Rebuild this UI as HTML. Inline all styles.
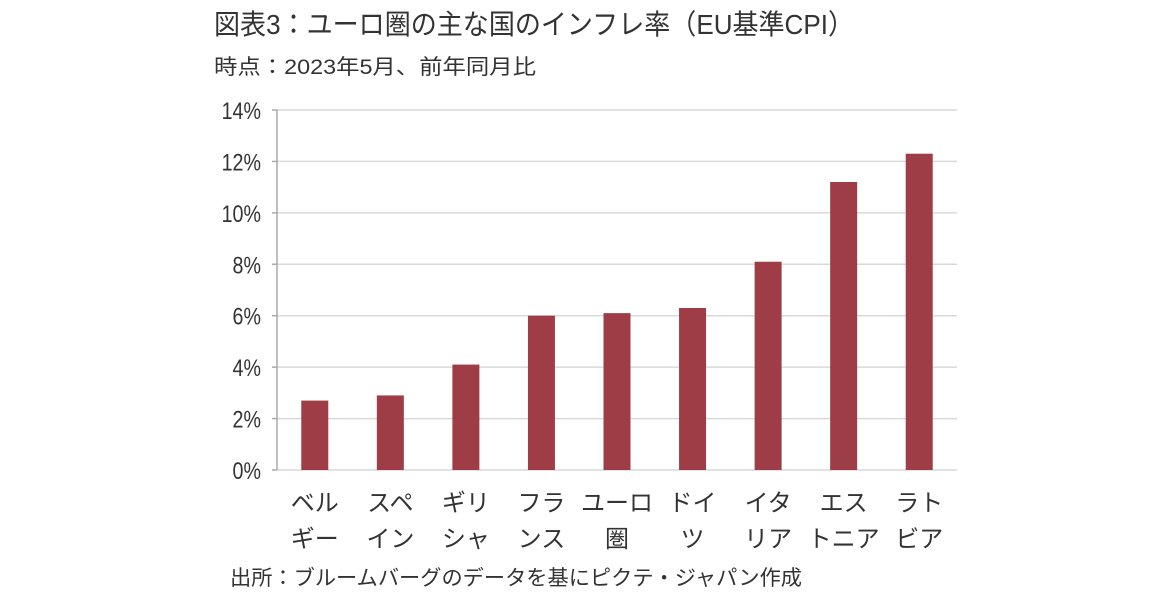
<!DOCTYPE html>
<html><head><meta charset="utf-8">
<style>
body{margin:0;background:#fff;width:1152px;height:596px;overflow:hidden;font-family:"Liberation Sans","Noto Sans CJK JP",sans-serif;color:#333}
svg text{font-family:"Liberation Sans","Noto Sans CJK JP",sans-serif}
</style></head><body>
<svg width="1152" height="596">
<text x="214" y="34" font-size="28" fill="#333" textLength="640" lengthAdjust="spacingAndGlyphs">図表3：ユーロ圏の主な国のインフレ率（EU基準CPI）</text>
<text x="214" y="74" font-size="21" fill="#333" textLength="322" lengthAdjust="spacingAndGlyphs">時点：2023年5月、前年同月比</text>
<g id="grid"></g>
<g id="bars"></g>
<g id="xlabels"></g>
<text x="230" y="585" font-size="21" fill="#333" textLength="572" lengthAdjust="spacingAndGlyphs">出所：ブルームバーグのデータを基にピクテ・ジャパン作成</text>
</svg>
<script>
const categoriesLine1 = ["ベル","スペ","ギリ","フラ","ユーロ","ドイ","イタ","エス","ラト"];
const categoriesLine2 = ["ギー","イン","シャ","ンス","圏","ツ","リア","トニア","ビア"];
const inflationValues = [2.7, 2.9, 4.1, 6.0, 6.1, 6.3, 8.1, 11.2, 12.3];
const yTicks = [0,2,4,6,8,10,12,14];
const yTickLabels = ["0%","2%","4%","6%","8%","10%","12%","14%"];
const NS="http://www.w3.org/2000/svg";
const x0=277,x1=957,y0=470,yTop=110,yMax=14;
const yScale=v=>y0-(v/yMax)*(y0-yTop);
const band=(x1-x0)/inflationValues.length;
const xCenter=i=>x0+band*(i+0.5);
function mk(tag,attrs,parent){const e=document.createElementNS(NS,tag);for(const k in attrs)e.setAttribute(k,attrs[k]);parent.appendChild(e);return e;}
const grid=document.getElementById('grid');
yTicks.forEach((t,i)=>{
  const y=yScale(t);
  const l=mk('line',{x1:x0,x2:x1,y1:y,y2:y,stroke:'#d9d9d9','stroke-width':1.5},grid);
  
  
  const tk=mk('line',{x1:x0-5,x2:x0,y1:y,y2:y,stroke:'#aaa','stroke-width':1.5},grid);
  
  
  const tx=mk('text',{x:x0-16,y:y+9,'font-size':24,'text-anchor':'end',fill:'#333',transform:`translate(${(x0-16)*0.18},0) scale(0.82,1)`},grid);
  tx.textContent=yTickLabels[i];
  
  
});
const ax=mk('line',{x1:x0,x2:x0,y1:yTop,y2:y0,stroke:'#aaa','stroke-width':1.5},grid);


const bars=document.getElementById('bars');
const bw=27;
inflationValues.forEach((v,i)=>{
  const y=yScale(v);
  const r=mk('rect',{x:xCenter(i)-bw/2,y:y,width:bw,height:y0-y,fill:'#9e3d45'},bars);
  
  
});
const xl=document.getElementById('xlabels');
categoriesLine1.forEach((c,i)=>{
  [[c,511],[categoriesLine2[i],547]].forEach(([s,y])=>{
    const t=mk('text',{x:xCenter(i),y:y,'font-size':24,'text-anchor':'middle',fill:'#333'},xl);
    t.textContent=s;
    
    
  });
});
</script>
</body></html>
